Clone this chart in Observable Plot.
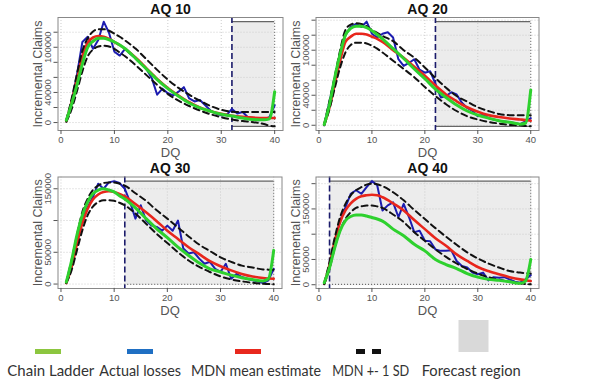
<!DOCTYPE html>
<html><head><meta charset="utf-8">
<script src="https://cdn.jsdelivr.net/npm/d3@7"></script>
<script src="https://cdn.jsdelivr.net/npm/@observablehq/plot@0.6"></script>
<style>
body{margin:0;background:#fff;}
#root{position:relative;width:593px;height:386px;overflow:hidden;background:#fff;}
.panel{position:absolute;}
.panel svg{overflow:visible;background:transparent !important;}
</style></head><body><div id="root"></div>
<script>
// ---------- DATA (incremental claims, in thousands) ----------
const dq = d3.range(1, 41);
const dqSmooth = [1,2,3,4,5,6,7,8,9,10,11,12,14,16,18,20,22,24,26,28,30,32,34,36,38,39,40];
const titles = ["AQ 10", "AQ 20", "AQ 30", "AQ 40"];
const forecastStart = [32, 22, 12, 2];
const xTicks = [0, 10, 20, 30, 40];
const yTicks = [
  [0,20000,40000,60000,80000,100000,120000],
  [0,20000,40000,60000,80000,100000,120000,140000],
  [0,50000,100000,150000],
  [0,50000,100000,150000,200000]
];
const yTickLabels = [
  [0,40000,100000],
  [0,40000,100000],
  [0,50000,150000],
  [0,50000,150000]
];

// AQ 10
const actual10 = [3,28,64,107,114,98,110,134,119,94,89,98,91,85,78,71,59,37,45,39,36,41,47,32,28,30,23,16,12,9.5,10,18,12,14,7,6,3,4,7,23];
const cl10     = [3,25,50,78,100,108,112,112,110,107,103,98,85,71,57,45,35,26,19.5,15,11,8.6,6,4,3.6,5,41];
const mdn10    = [2,28,58,88,106,113,115,114,111,107,103,98,86,72,58,46,36,27,20,15,11.5,9,7.5,6.5,6,6,6];
const up10     = [3,32,65,95,112,121,124,124,122,118,114,109,98,84,70,57,46,37,29,22,17,14.5,14,14,14,14,14];
const lo10     = [1,18,42,68,88,97,101,102,101,98,93,88,76,63,50,38,29,22,16,11,7,4,2,0.5,-2,-4,-5];

// AQ 20
const actual20 = [0,32,64,95,120,131,135,131,138,122,117,122,124,117,88,79,83,88,74,70,72,55,37,39,44,41,30,23,19,12,14,9.5,7.7,6,5,4,3,1.5,5,9.5];
const cl20     = [1,28,64,95,120,129,132,132,130,126,121,115,102,89,75,62,48,37,27,19,13.5,9.5,6,4,1.5,2.7,47];
const mdn20    = [1,24,55,86,111,118,122,122,121,118,115,111,100,90,78,66,53,41,32,24,18,13.5,11,9,7.7,7,6];
const up20     = [2,33,66,100,127,134,136,135,132,127,123,119,112,100,90,77,63,50,39,31.5,24,19,15,13.5,13.5,13.5,13.5];
const lo20     = [0,22,50,77,97,107,110,110,109,106,102,97,86,75,64,51,39,28,19,12,7.7,4.5,2.3,0.4,0,-1,-1.4];

// AQ 30
const actual30 = [1.5,29,69,105,121,137,158,150,160,162,159,150,129,103,124,100,92,90,84,92,84,100,56,48,50,40,32,35,24,19,32,8.4,16,11,8.4,5.8,4.2,1.5,5.8,24];
const cl30     = [3,37,77,108,129,142,148,150,148,145,139,134,120,103,87,73,58,45,33,24,19,14,10,7,5,8.4,53];
const mdn30    = [1.5,27,63,95,118,133,141,145,146,145,142,138,126,113,99,84,71,58,47,36,28,21.5,16,12,9.4,8.8,8.4];
const up30     = [3,38,77,113,134,148,155,159,160,160,158,155,143,131,116,103,89,75,62,52,42,35,29,26,23,22.7,22.5];
const lo30     = [1.5,22,53,84,108,122,129,132,132,131,128,124,111,95,79,64.5,50,37,27,19,12,7.3,4.2,2.1,0.5,0,-0.5];

// AQ 40
const actual40 = [2,37,87,127,153,180,187,180,193,205,197,147,157,163,134,160,134,104,107,87,86,70,67,67,68,47,37,34,24,20.6,24,8.6,15,14,15,10.6,6,4,10.6,19];
const cl40     = [4,34,74,107,127,135,138,138,136,133,130,126,110,97,80,67,50,40,32,22,15,10.6,8.6,6,2.7,7.3,50];
const mdn40    = [2,40,87,124,147,161,170,175,177,178,177,173,161,147,128,110,92,77,60,47,35,27,20.6,15,10.6,9,7.3];
const up40     = [3,45,94,134,160,177,187,193,198,200,199,195,183,167,148,130,112,95,79,64,52,42,34,27,24,23,22];
const lo40     = [1,32,74,107,130,143.5,152,155,157,157,155,152,139,124,104,87,70,55,42,31,22,15,10,6,2.7,1.5,0.7];

const panelsData = [
  {actual: actual10, cl: cl10, mdn: mdn10, up: up10, lo: lo10},
  {actual: actual20, cl: cl20, mdn: mdn20, up: up20, lo: lo20},
  {actual: actual30, cl: cl30, mdn: mdn30, up: up30, lo: lo30},
  {actual: actual40, cl: cl40, mdn: mdn40, up: up40, lo: lo40}
];

const legendLabels = ["Chain Ladder", "Actual losses", "MDN mean estimate", "MDN +- 1 SD", "Forecast region"];

// ---------- STYLE / LAYOUT ----------
const colors = {cl: "#2ed12e", actual: "#1c1cb0", mdn: "#e8261c", sd: "#111111", region: "#ececec", vline: "#1b1b6b"};
const legendColors = ["#8cc63f", "#1f6fc3", "#e8281d", "#111111", "#d9d9d9"];
const geom = [
  {left: 0,   top: 0,   w: 292, h: 160, ml: 57.5, mr: 9.5,  mt: 17,   mb: 30, bottomDash: null},
  {left: 292, top: 0,   w: 301, h: 160, ml: 23.5, mr: 54.5, mt: 17,   mb: 30, bottomDash: null},
  {left: 0,   top: 160, w: 292, h: 158, ml: 57.5, mr: 10.5, mt: 16.5, mb: 30, bottomDash: "1,2"},
  {left: 292, top: 160, w: 301, h: 158, ml: 23.5, mr: 54.5, mt: 16.5, mb: 30, bottomDash: "1,2"}
];
const FONT = "'Liberation Sans', Arial, sans-serif";
const root = document.getElementById("root");

function makePanel(i) {
  const g = geom[i];
  const d = panelsData[i];
  const K = 1000;
  const allVals = [...d.actual, ...d.cl, ...d.mdn, ...d.up, ...d.lo].map(v => v * K);
  const [lo, hi] = d3.extent(allVals);
  const pad = 0.04 * (hi - lo);
  const rect = [{x1: forecastStart[i], x2: 40, y1: lo, y2: hi}];
  const smooth = (arr, opts) => Plot.line(arr, {x: (v, j) => dqSmooth[j], y: v => v * K, curve: "monotone-x", ...opts});
  const plot = Plot.plot({
    width: g.w, height: g.h,
    marginLeft: g.ml, marginRight: g.mr, marginTop: g.mt, marginBottom: g.mb,
    style: {background: "transparent", color: "#555", fontFamily: FONT, overflow: "visible"},
    x: {domain: [-0.56, 41.56]},
    y: {domain: [lo - pad, hi + pad]},
    marks: [
      Plot.rect(rect, {x1: "x1", x2: "x2", y1: "y1", y2: "y2", fill: colors.region}),
      Plot.ruleX(xTicks, {stroke: "#cccccc", strokeDasharray: "1,2"}),
      Plot.ruleY(yTicks[i], {stroke: "#cccccc", strokeDasharray: "1,2"}),
      Plot.ruleY(rect, {x1: "x1", x2: "x2", y: "y2", stroke: "#666", strokeWidth: 1.2}),
      Plot.ruleY(rect, {x1: "x1", x2: "x2", y: "y1", stroke: "#666", strokeWidth: 1.2, strokeDasharray: g.bottomDash}),
      Plot.ruleX(rect, {x: "x2", y1: "y1", y2: "y2", stroke: "#666", strokeDasharray: "1,2"}),
      Plot.ruleX([forecastStart[i]], {stroke: colors.vline, strokeWidth: 1.6, strokeDasharray: "6,3"}),
      Plot.line(d.actual, {x: (v, j) => dq[j], y: v => v * K, stroke: colors.actual, strokeWidth: 2}),
      smooth(d.mdn, {stroke: colors.mdn, strokeWidth: 2.6}),
      smooth(d.up, {stroke: colors.sd, strokeWidth: 2, strokeDasharray: "6,4"}),
      smooth(d.lo, {stroke: colors.sd, strokeWidth: 2, strokeDasharray: "6,4"}),
      smooth(d.cl, {stroke: colors.cl, strokeWidth: 3}),
      Plot.frame({stroke: "#888"}),
      Plot.axisX({ticks: xTicks, tickSize: 4, tickPadding: 2, fontSize: 9.5, label: null}),
      Plot.axisY({ticks: yTicks[i], tickSize: 4, tickFormat: () => "", label: null}),
      Plot.text(yTickLabels[i], {y: v => v, text: v => String(v), frameAnchor: "left", rotate: -90, dx: -10, textAnchor: "middle", lineAnchor: "middle", fontSize: 9.5, fill: "#555"}),
      Plot.text(["Incremental Claims"], {text: t => t, frameAnchor: "left", rotate: -90, dx: -20, textAnchor: "middle", lineAnchor: "middle", fontSize: 12.5, fill: "#555"}),
      Plot.text(["DQ"], {text: t => t, frameAnchor: "bottom", dy: 22, lineAnchor: "middle", fontSize: 13, fill: "#555"}),
      Plot.text([titles[i]], {text: t => t, frameAnchor: "top", dy: -8, lineAnchor: "middle", fontSize: 14, fontWeight: "bold", fill: "#111"})
    ]
  });
  const div = document.createElement("div");
  div.className = "panel";
  div.style.left = g.left + "px";
  div.style.top = g.top + "px";
  div.appendChild(plot);
  root.appendChild(div);
}
[0, 1, 2, 3].forEach(makePanel);

// ---------- LEGEND ----------
const lg = d3.select(root).append("svg")
  .attr("width", 593).attr("height", 68)
  .style("position", "absolute").style("left", "0px").style("top", "318px");
const textX = [50.8, 140.2, 256, 370.8, 471.2];
const textW = [87, 81.7, 130, 77, 99];
const swX = [35, 127, 235];
[0, 1, 2].forEach(k => lg.append("rect").attr("x", swX[k]).attr("y", 31).attr("width", 26).attr("height", 5).attr("fill", legendColors[k]));
lg.append("rect").attr("x", 356).attr("y", 31).attr("width", 9).attr("height", 5).attr("fill", legendColors[3]);
lg.append("rect").attr("x", 372).attr("y", 31).attr("width", 9).attr("height", 5).attr("fill", legendColors[3]);
lg.append("rect").attr("x", 458.5).attr("y", 2).attr("width", 30).attr("height", 32).attr("fill", legendColors[4]);
legendLabels.forEach((t, k) => {
  lg.append("text").attr("x", textX[k]).attr("y", 58).attr("text-anchor", "middle")
    .attr("textLength", textW[k]).attr("lengthAdjust", "spacingAndGlyphs")
    .attr("font-family", "Lato, 'Noto Sans', sans-serif").attr("font-size", 15).attr("fill", "#333").text(t);
});
</script>
</body></html>
